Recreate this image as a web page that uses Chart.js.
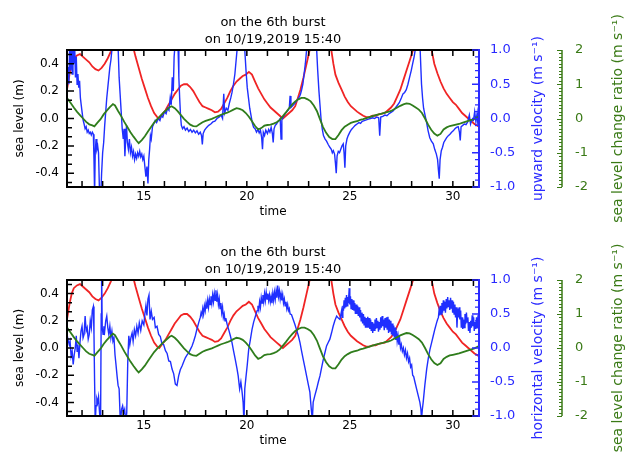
<!DOCTYPE html>
<html>
<head>
<meta charset="utf-8">
<script src="https://cdn.jsdelivr.net/npm/chart.js@4.4.1/dist/chart.umd.min.js"></script>
<style>
  html, body { margin: 0; padding: 0; background: #fff; }
  #wrap { position: relative; width: 629px; height: 457px; overflow: hidden; }
  canvas { position: absolute; left: 0; }
</style>
</head>
<body>
<div id="wrap">
  <canvas id="upper" width="629" height="229" style="top:0px"></canvas>
  <canvas id="lower" width="629" height="229" style="top:228px"></canvas>
</div>
<script>
// titles and tick labels
const burstTitle = ['on the 6th burst', 'on 10/19,2019 15:40'];
const timeTicks = [15, 20, 25, 30];
const seaTicks = [-0.4, -0.2, 0, 0.2, 0.4];
const velTicks = [-1, -0.5, 0, 0.5, 1];
const ratioTicks = [-2, -1, 0, 1, 2];

// sea level (m), red, same in both panels  [time, value]
const seaLevel = [
  [11.27,0.21],[11.4,0.33],[11.5,0.40],[11.6,0.44],[11.75,0.46],[11.9,0.47],[12.05,0.45],[12.2,0.43],
  [12.35,0.41],[12.5,0.38],[12.65,0.36],[12.8,0.35],[12.95,0.37],[13.1,0.40],[13.25,0.44],[13.4,0.49],
  [13.55,0.56],[13.8,0.68],[14.0,0.72],[14.2,0.68],[14.4,0.58],[14.5,0.51],[14.6,0.45],[14.75,0.37],
  [14.9,0.29],[15.05,0.22],[15.2,0.15],[15.35,0.09],[15.5,0.04],[15.65,0.01],[15.75,0.0],[15.9,0.03],
  [16.05,0.06],[16.2,0.10],[16.35,0.14],[16.5,0.18],[16.65,0.21],[16.8,0.24],[16.95,0.25],[17.1,0.25],
  [17.25,0.23],[17.4,0.20],[17.55,0.16],[17.7,0.12],[17.85,0.09],[18.0,0.08],[18.15,0.07],[18.3,0.06],
  [18.45,0.045],[18.6,0.05],[18.75,0.07],[18.9,0.11],[19.05,0.15],[19.2,0.20],[19.35,0.24],[19.5,0.27],
  [19.65,0.29],[19.8,0.31],[19.95,0.32],[20.1,0.34],[20.25,0.32],[20.4,0.27],[20.55,0.22],[20.7,0.18],
  [20.85,0.14],[21.0,0.11],[21.15,0.08],[21.3,0.06],[21.45,0.04],[21.6,0.02],[21.75,0.0],[21.9,0.02],
  [22.05,0.04],[22.2,0.06],[22.35,0.09],[22.5,0.16],[22.6,0.21],[22.75,0.30],[22.9,0.40],[23.05,0.50],
  [23.3,0.66],[23.6,0.76],[23.9,0.66],[24.1,0.50],[24.2,0.40],[24.3,0.32],[24.45,0.26],[24.6,0.21],
  [24.75,0.16],[24.9,0.12],[25.05,0.09],[25.2,0.07],[25.35,0.05],[25.5,0.035],[25.65,0.02],[25.8,0.01],
  [25.95,0.01],[26.1,0.02],[26.25,0.02],[26.4,0.03],[26.55,0.035],[26.7,0.04],[26.85,0.06],[27.0,0.08],
  [27.15,0.11],[27.3,0.16],[27.45,0.21],[27.6,0.28],[27.75,0.35],[27.9,0.42],[28.05,0.49],[28.2,0.58],
  [28.5,0.72],[28.8,0.62],[28.97,0.50],[29.1,0.40],[29.25,0.33],[29.4,0.27],[29.55,0.22],[29.7,0.18],
  [29.85,0.15],[30.0,0.12],[30.15,0.10],[30.3,0.07],[30.45,0.04],[30.6,0.02],[30.75,0.0],[30.9,-0.02],
  [31.05,-0.04],[31.27,-0.06]
];

// sea level change ratio (m s-1), green, same in both panels
const changeRatio = [
  [11.27,0.60],[11.45,0.45],[11.6,0.32],[11.75,0.2],[11.9,0.1],[12.05,0.0],[12.2,-0.1],[12.35,-0.17],
  [12.5,-0.2],[12.6,-0.23],[12.75,-0.12],[12.9,-0.02],[13.05,0.12],[13.2,0.23],[13.35,0.33],[13.5,0.42],
  [13.6,0.38],[13.75,0.22],[13.9,0.07],[14.05,-0.1],[14.2,-0.25],[14.35,-0.4],[14.5,-0.53],[14.65,-0.65],
  [14.75,-0.72],[14.9,-0.63],[15.05,-0.52],[15.2,-0.38],[15.35,-0.25],[15.5,-0.12],[15.65,-0.02],[15.8,0.08],
  [15.95,0.17],[16.1,0.25],[16.25,0.33],[16.35,0.36],[16.5,0.30],[16.65,0.21],[16.8,0.1],[16.95,-0.01],
  [17.1,-0.1],[17.25,-0.18],[17.4,-0.22],[17.55,-0.23],[17.7,-0.17],[17.85,-0.11],[18.0,-0.07],[18.15,-0.04],
  [18.3,-0.01],[18.45,0.03],[18.6,0.07],[18.75,0.11],[18.9,0.14],[19.05,0.17],[19.2,0.21],[19.35,0.26],
  [19.5,0.30],[19.65,0.28],[19.8,0.24],[19.95,0.16],[20.1,0.05],[20.25,-0.08],[20.4,-0.22],[20.55,-0.32],
  [20.7,-0.28],[20.85,-0.21],[21.0,-0.19],[21.15,-0.18],[21.3,-0.15],[21.45,-0.11],[21.6,-0.04],[21.75,0.07],
  [21.9,0.18],[22.05,0.3],[22.2,0.41],[22.35,0.5],[22.5,0.56],[22.65,0.6],[22.8,0.6],[22.95,0.56],
  [23.1,0.5],[23.25,0.38],[23.4,0.22],[23.55,-0.02],[23.7,-0.25],[23.85,-0.42],[24.0,-0.54],[24.15,-0.6],
  [24.3,-0.6],[24.45,-0.48],[24.6,-0.34],[24.75,-0.24],[24.9,-0.18],[25.05,-0.13],[25.2,-0.1],[25.35,-0.08],
  [25.5,-0.04],[25.65,-0.02],[25.8,0.01],[25.95,0.04],[26.1,0.07],[26.25,0.1],[26.4,0.12],[26.55,0.14],
  [26.7,0.17],[26.85,0.19],[27.0,0.22],[27.15,0.27],[27.3,0.32],[27.45,0.37],[27.6,0.41],[27.75,0.44],
  [27.9,0.43],[28.05,0.38],[28.2,0.32],[28.35,0.26],[28.5,0.16],[28.65,0.0],[28.8,-0.18],[28.95,-0.33],
  [29.1,-0.44],[29.25,-0.5],[29.4,-0.45],[29.55,-0.32],[29.7,-0.26],[29.85,-0.22],[30.0,-0.2],[30.15,-0.18],
  [30.3,-0.16],[30.45,-0.13],[30.6,-0.1],[30.75,-0.07],[30.9,-0.04],[31.05,-0.01],[31.27,0.06]
];

// upward velocity (m s-1), blue, upper panel
const upwardVel = [
  [11.27,0.45],[11.32,0.75],[11.36,0.5],[11.4,1.1],[11.44,0.7],[11.48,1.1],[11.52,0.65],[11.56,1.05],
  [11.6,0.8],[11.64,1.1],[11.68,0.6],[11.72,0.9],[11.76,0.5],[11.8,0.65],[11.84,0.45],[11.88,0.55],
  [11.92,0.3],[11.96,0.2],[12.0,0.1],[12.05,-0.02],[12.1,-0.08],[12.15,-0.15],[12.2,-0.12],[12.25,-0.2],
  [12.3,-0.17],[12.35,-0.22],[12.4,-0.2],[12.45,-0.24],[12.5,-0.2],[12.55,-0.23],[12.58,-0.6],[12.61,-1.1],
  [12.64,-0.5],[12.68,-0.3],[12.72,-0.45],[12.76,-0.4],[12.8,-0.5],[12.85,-1.1],[12.9,-1.2],[12.95,-0.8],
  [13.0,-0.5],[13.05,-0.35],[13.1,-0.1],[13.15,0.1],[13.2,0.3],[13.25,0.45],[13.3,0.6],[13.35,0.75],
  [13.4,0.85],[13.45,1.0],[13.55,1.3],[13.65,1.3],[13.75,1.05],[13.8,0.6],[13.85,0.35],[13.9,0.1],
  [13.95,-0.15],[14.0,-0.3],[14.04,-0.15],[14.08,-0.55],[14.12,-0.3],[14.16,-0.1],[14.2,-0.35],[14.25,-0.45],
  [14.3,-0.3],[14.35,-0.5],[14.4,-0.42],[14.45,-0.55],[14.5,-0.48],[14.55,-0.6],[14.6,-0.52],[14.65,-0.58],
  [14.7,-0.5],[14.75,-0.55],[14.8,-0.48],[14.85,-0.56],[14.9,-0.52],[14.95,-0.6],[15.0,-0.55],[15.05,-0.7],
  [15.1,-0.85],[15.15,-0.7],[15.2,-0.95],[15.24,-0.6],[15.28,-0.45],[15.32,-0.25],[15.36,-0.3],[15.42,-0.12],
  [15.48,-0.08],[15.55,-0.03],[15.62,-0.06],[15.7,0.0],[15.78,-0.03],[15.85,0.04],[15.92,0.02],[16.0,0.1],
  [16.08,0.07],[16.15,0.15],[16.22,0.12],[16.28,0.3],[16.33,0.2],[16.38,0.6],[16.43,0.4],[16.47,0.9],
  [16.52,1.1],[16.6,1.2],[16.66,1.05],[16.7,0.6],[16.74,0.3],[16.78,0.05],[16.82,-0.1],[16.88,-0.15],
  [16.95,-0.12],[17.02,-0.17],[17.1,-0.14],[17.18,-0.19],[17.26,-0.16],[17.34,-0.2],[17.42,-0.17],[17.5,-0.21],
  [17.58,-0.18],[17.66,-0.23],[17.74,-0.2],[17.8,-0.25],[17.84,-0.38],[17.88,-0.22],[17.95,-0.17],[18.05,-0.13],
  [18.15,-0.1],[18.25,-0.08],[18.35,-0.05],[18.45,-0.04],[18.55,0.0],[18.65,0.02],[18.75,0.05],[18.82,0.0],
  [18.88,0.36],[18.92,0.08],[19.0,0.15],[19.08,0.12],[19.15,0.22],[19.22,0.3],[19.28,0.38],[19.35,0.5],
  [19.42,0.65],[19.48,0.85],[19.54,1.05],[19.65,1.3],[19.78,1.2],[19.9,1.0],[19.96,0.7],[20.02,0.45],
  [20.08,0.3],[20.14,0.15],[20.2,0.05],[20.27,-0.07],[20.33,-0.13],[20.4,-0.15],[20.47,-0.2],[20.54,-0.16],
  [20.6,-0.21],[20.66,-0.17],[20.72,-0.28],[20.76,-0.45],[20.8,-0.2],[20.86,-0.25],[20.92,-0.17],[21.0,-0.22],
  [21.06,-0.16],[21.12,-0.2],[21.18,-0.13],[21.24,-0.22],[21.28,-0.35],[21.32,-0.15],[21.38,-0.1],[21.44,-0.08],
  [21.5,-0.05],[21.56,-0.03],[21.62,0.0],[21.66,-0.3],[21.7,-0.02],[21.76,0.02],[21.82,0.05],[21.88,0.08],
  [21.94,0.1],[22.0,0.12],[22.06,0.15],[22.1,0.33],[22.14,0.16],[22.2,0.18],[22.27,0.2],[22.33,0.22],
  [22.4,0.25],[22.47,0.28],[22.54,0.31],[22.6,0.35],[22.66,0.42],[22.72,0.5],[22.78,0.65],[22.84,0.8],
  [22.9,1.0],[23.0,1.3],[23.15,1.4],[23.3,1.2],[23.39,1.0],[23.44,0.7],[23.5,0.4],[23.55,0.2],
  [23.6,0.0],[23.66,-0.15],[23.72,-0.25],[23.8,-0.3],[23.87,-0.33],[23.95,-0.38],[24.03,-0.42],[24.1,-0.45],
  [24.15,-0.5],[24.2,-0.47],[24.26,-0.52],[24.3,-0.65],[24.34,-0.8],[24.38,-0.55],[24.44,-0.48],[24.5,-0.5],
  [24.56,-0.45],[24.62,-0.4],[24.68,-0.37],[24.72,-0.5],[24.76,-0.72],[24.8,-0.4],[24.86,-0.3],[24.92,-0.25],
  [25.0,-0.2],[25.08,-0.16],[25.17,-0.13],[25.26,-0.1],[25.35,-0.08],[25.44,-0.06],[25.52,-0.07],[25.6,-0.04],
  [25.7,-0.03],[25.8,-0.02],[25.9,-0.01],[26.0,0.0],[26.1,0.01],[26.2,0.0],[26.3,0.02],[26.4,0.01],
  [26.45,-0.25],[26.5,0.02],[26.6,0.03],[26.7,0.05],[26.8,0.04],[26.9,0.07],[27.0,0.09],[27.1,0.11],
  [27.2,0.15],[27.3,0.19],[27.4,0.23],[27.5,0.3],[27.58,0.36],[27.66,0.38],[27.74,0.42],[27.82,0.5],
  [27.9,0.6],[27.98,0.7],[28.05,0.8],[28.12,0.9],[28.2,1.05],[28.3,1.3],[28.4,1.1],[28.44,0.8],
  [28.48,0.5],[28.53,0.3],[28.58,0.15],[28.65,0.05],[28.72,-0.05],[28.8,-0.18],[28.88,-0.28],[28.96,-0.33],
  [29.05,-0.37],[29.12,-0.45],[29.2,-0.52],[29.26,-0.6],[29.3,-0.75],[29.34,-0.88],[29.38,-0.6],[29.44,-0.47],
  [29.5,-0.42],[29.56,-0.35],[29.62,-0.32],[29.7,-0.28],[29.78,-0.25],[29.86,-0.23],[29.94,-0.2],[30.02,-0.18],
  [30.1,-0.15],[30.18,-0.13],[30.26,-0.12],[30.32,-0.2],[30.36,-0.32],[30.4,-0.12],[30.48,-0.1],[30.56,-0.08],
  [30.64,-0.09],[30.72,-0.05],[30.8,0.05],[30.86,-0.08],[30.92,-0.02],[31.0,-0.03],[31.06,0.1],[31.12,-0.05],
  [31.18,0.08],[31.22,-0.1],[31.27,0.05]
];

// horizontal velocity (m s-1), blue, lower panel
const horizVel = [
  [11.27,0.2],[11.32,0.12],[11.38,0.05],[11.42,0.1],[11.47,-0.12],[11.52,-0.05],[11.57,-0.24],[11.62,-0.1],
  [11.67,0.0],[11.72,0.18],[11.76,-0.05],[11.8,0.05],[11.85,-0.15],[11.9,0.08],[11.95,0.25],[12.0,0.32],
  [12.05,0.15],[12.1,0.2],[12.15,0.47],[12.2,0.25],[12.25,0.3],[12.3,0.13],[12.35,0.2],[12.4,0.4],
  [12.45,0.3],[12.5,0.56],[12.55,0.61],[12.58,0.2],[12.61,-0.5],[12.64,-1.1],[12.68,-0.85],[12.72,-0.75],
  [12.76,-0.8],[12.8,-0.72],[12.85,-0.95],[12.9,-1.1],[12.93,0.5],[12.95,1.2],[12.98,0.3],[13.02,0.2],
  [13.06,0.32],[13.1,0.25],[13.15,0.4],[13.2,0.47],[13.25,0.3],[13.3,0.2],[13.35,0.32],[13.4,0.15],
  [13.45,0.25],[13.5,0.1],[13.55,0.15],[13.6,-0.1],[13.65,-0.25],[13.7,-0.41],[13.75,-0.55],[13.8,-0.6],
  [13.86,-1.1],[13.92,-0.9],[13.97,-0.85],[14.02,-0.95],[14.07,-0.9],[14.12,-1.1],[14.17,-0.95],[14.22,-0.2],
  [14.27,0.18],[14.32,0.05],[14.37,0.15],[14.43,0.22],[14.48,0.1],[14.54,0.27],[14.6,0.18],[14.66,0.32],
  [14.72,0.22],[14.78,0.37],[14.85,0.26],[14.92,0.4],[15.0,0.34],[15.05,0.5],[15.1,0.62],[15.15,0.48],
  [15.2,0.72],[15.25,0.78],[15.3,0.42],[15.36,0.54],[15.42,0.42],[15.5,0.45],[15.56,0.3],[15.64,0.32],
  [15.72,0.2],[15.8,0.17],[15.88,0.06],[15.96,0.05],[16.05,-0.04],[16.13,-0.08],[16.21,-0.19],[16.29,-0.2],
  [16.37,-0.31],[16.45,-0.38],[16.53,-0.53],[16.61,-0.55],[16.69,-0.41],[16.77,-0.32],[16.86,-0.26],[16.94,-0.2],
  [17.02,-0.14],[17.1,-0.1],[17.18,-0.07],[17.26,-0.02],[17.34,0.03],[17.42,0.1],[17.5,0.18],[17.58,0.28],
  [17.66,0.37],[17.74,0.45],[17.78,0.52],[17.82,0.48],[17.86,0.58],[17.9,0.5],[17.94,0.62],[17.98,0.55],
  [18.02,0.66],[18.06,0.58],[18.1,0.7],[18.14,0.6],[18.18,0.72],[18.22,0.64],[18.26,0.76],[18.3,0.66],
  [18.34,0.78],[18.38,0.68],[18.42,0.8],[18.46,0.7],[18.5,0.85],[18.54,0.68],[18.58,0.78],[18.62,0.64],
  [18.66,0.72],[18.7,0.58],[18.74,0.66],[18.78,0.52],[18.82,0.6],[18.86,0.45],[18.9,0.5],[18.94,0.4],
  [18.98,0.44],[19.04,0.35],[19.12,0.27],[19.2,0.18],[19.28,0.08],[19.36,-0.05],[19.44,-0.17],
  [19.52,-0.3],[19.58,-0.41],[19.65,-0.6],[19.71,-0.5],[19.77,-0.65],[19.82,-0.8],[19.86,-1.1],[19.9,-0.6],
  [19.95,-0.45],[20.02,-0.25],[20.09,-0.02],[20.17,0.12],[20.25,0.27],[20.33,0.38],[20.42,0.47],[20.5,0.55],
  [20.54,0.62],[20.58,0.56],[20.62,0.68],[20.66,0.6],[20.7,0.74],[20.74,0.66],[20.78,0.78],[20.82,0.68],
  [20.86,0.8],[20.9,0.7],[20.94,0.82],[20.98,0.72],[21.02,0.8],[21.06,0.7],[21.1,0.78],[21.14,0.68],
  [21.18,0.76],[21.22,0.66],[21.26,0.8],[21.3,0.7],[21.34,0.82],[21.38,0.72],[21.42,0.84],[21.46,0.74],
  [21.5,0.92],[21.54,0.76],[21.58,0.84],[21.62,0.72],[21.66,0.8],[21.7,0.7],[21.74,0.78],[21.78,0.66],
  [21.82,0.72],[21.86,0.62],[21.9,0.68],[21.94,0.58],[21.98,0.64],[22.02,0.55],[22.06,0.58],[22.1,0.5],
  [22.17,0.49],[22.25,0.42],[22.33,0.35],[22.41,0.27],
  [22.5,0.18],[22.58,0.08],[22.66,-0.05],[22.74,-0.17],[22.82,-0.29],[22.9,-0.41],[22.98,-0.53],[23.06,-0.65],
  [23.1,-0.8],[23.14,-0.94],[23.18,-1.05],[23.22,-0.8],[23.3,-0.7],[23.39,-0.6],[23.47,-0.5],[23.55,-0.41],
  [23.63,-0.29],[23.71,-0.17],[23.79,-0.07],[23.87,0.03],[23.95,0.08],[24.03,0.13],[24.11,0.22],[24.19,0.32],
  [24.27,0.4],[24.36,0.47],[24.44,0.44],[24.52,0.42],[24.6,0.55],[24.63,0.45],[24.66,0.62],[24.69,0.55],
  [24.72,0.7],[24.75,0.58],[24.78,0.74],[24.81,0.6],[24.84,0.78],[24.87,0.62],[24.9,0.75],[24.93,0.66],
  [24.97,0.88],[25.0,0.64],[25.03,0.76],[25.06,0.58],[25.1,0.72],[25.13,0.56],[25.17,0.7],[25.2,0.55],
  [25.24,0.66],[25.27,0.5],[25.31,0.64],[25.34,0.5],[25.38,0.62],[25.41,0.47],[25.45,0.6],[25.48,0.45],
  [25.52,0.56],[25.55,0.4],[25.59,0.52],[25.62,0.36],[25.66,0.5],[25.69,0.34],[25.73,0.46],[25.76,0.3],
  [25.8,0.44],[25.83,0.3],[25.87,0.46],[25.9,0.3],[25.94,0.44],[25.97,0.28],[26.01,0.42],[26.04,0.25],
  [26.08,0.38],[26.11,0.22],[26.15,0.36],[26.18,0.26],[26.22,0.42],[26.25,0.28],[26.29,0.44],[26.32,0.3],
  [26.36,0.4],[26.39,0.24],[26.43,0.38],[26.46,0.27],[26.5,0.45],[26.53,0.3],[26.57,0.47],[26.6,0.32],
  [26.64,0.42],[26.67,0.26],[26.71,0.44],[26.74,0.3],[26.78,0.45],[26.81,0.28],[26.85,0.46],[26.88,0.22],
  [26.92,0.42],[26.95,0.25],[26.99,0.4],[27.02,0.2],[27.06,0.36],[27.09,0.18],[27.13,0.33],[27.16,0.15],
  [27.2,0.3],[27.23,0.12],[27.27,0.25],[27.3,0.1],[27.34,0.18],[27.38,0.05],[27.42,0.12],[27.46,0.0],
  [27.5,0.05],[27.55,-0.05],[27.6,0.0],[27.65,-0.1],[27.7,-0.03],[27.75,-0.15],[27.8,-0.08],[27.85,-0.2],
  [27.9,-0.15],[27.95,-0.28],[28.0,-0.25],[28.05,-0.4],[28.1,-0.42],[28.16,-0.5],[28.24,-0.6],[28.32,-0.7],
  [28.4,-0.8],[28.45,-0.9],[28.48,-1.05],[28.52,-0.9],[28.56,-0.8],[28.64,-0.55],[28.73,-0.31],[28.81,-0.15],
  [28.89,-0.02],[28.97,0.08],[29.05,0.18],[29.13,0.28],[29.21,0.37],[29.26,0.42],[29.3,0.45],[29.33,0.55],
  [29.36,0.48],[29.4,0.62],[29.43,0.5],[29.47,0.66],[29.5,0.52],[29.54,0.7],[29.57,0.55],[29.61,0.68],
  [29.64,0.52],[29.68,0.72],[29.71,0.58],[29.75,0.75],[29.78,0.6],[29.82,0.7],[29.85,0.56],[29.89,0.74],
  [29.92,0.58],[29.96,0.7],[29.99,0.52],[30.03,0.68],[30.06,0.5],[30.1,0.64],[30.13,0.45],[30.17,0.6],
  [30.2,0.3],[30.24,0.58],[30.27,0.45],[30.31,0.6],[30.34,0.42],[30.38,0.55],[30.41,0.3],[30.45,0.45],
  [30.48,0.28],[30.52,0.42],[30.55,0.3],[30.59,0.5],[30.62,0.35],[30.66,0.52],[30.69,0.38],[30.73,0.45],
  [30.76,0.25],[30.8,0.38],[30.83,0.22],[30.87,0.4],[30.9,0.3],[30.94,0.48],[30.97,0.32],[31.01,0.45],
  [31.04,0.25],[31.08,0.38],[31.11,0.28],[31.15,0.45],[31.18,0.3],[31.22,0.48],[31.27,0.38]
];

const FONT = '"DejaVu Sans", sans-serif';
const BLUE = '#2a2aff';
const GREEN = '#3a7a16';
const toXY = arr => arr.map(p => ({x: p[0], y: p[1]}));
const fixTicks = list => (scale => { scale.ticks = list.map(v => ({value: v})); });

function framePlugin(velTitle) {
  return {
    id: 'frame',
    afterDatasetsDraw(chart) {
      const {ctx, chartArea: a, scales} = chart;
      const sx = scales.x, sy = scales.sea, sv = scales.vel, sr = scales.ratio;
      const cx = (a.left + a.right) / 2, cy = (a.top + a.bottom) / 2;
      ctx.save();

      // black frame (left, top, bottom)
      ctx.strokeStyle = '#000';
      ctx.lineWidth = 2;
      ctx.beginPath();
      ctx.moveTo(a.right, a.top); ctx.lineTo(a.left, a.top);
      ctx.lineTo(a.left, a.bottom); ctx.lineTo(a.right, a.bottom);
      ctx.stroke();

      // time ticks, top and bottom, pointing in
      ctx.lineWidth = 1.5;
      ctx.beginPath();
      for (let t = 12; t <= 31; t++) {
        const px = sx.getPixelForValue(t);
        ctx.moveTo(px, a.bottom); ctx.lineTo(px, a.bottom - 6);
        ctx.moveTo(px, a.top); ctx.lineTo(px, a.top + 6);
      }
      // sea level ticks, 3 per 0.2
      for (let k = -7; k <= 7; k++) {
        const py = sy.getPixelForValue(k * 0.2 / 3);
        ctx.moveTo(a.left, py); ctx.lineTo(a.left + (k % 3 === 0 ? 7 : 5), py);
      }
      ctx.stroke();

      // velocity axis (blue) at right edge
      ctx.strokeStyle = BLUE;
      ctx.lineWidth = 2;
      ctx.beginPath();
      ctx.moveTo(a.right, a.top - 1); ctx.lineTo(a.right, a.bottom + 1);
      ctx.stroke();
      ctx.lineWidth = 1.3;
      ctx.beginPath();
      for (let k = -10; k <= 10; k++) {
        const py = sv.getPixelForValue(k / 10);
        ctx.moveTo(a.right, py); ctx.lineTo(a.right - (k % 5 === 0 ? 7 : 4), py);
      }
      ctx.stroke();

      // change ratio axis (green)
      const gx = sr.left + 1;
      ctx.strokeStyle = GREEN;
      ctx.lineWidth = 1.5;
      ctx.beginPath();
      ctx.moveTo(gx, a.top); ctx.lineTo(gx, a.bottom);
      ctx.stroke();
      ctx.lineWidth = 1;
      ctx.beginPath();
      for (let k = -20; k <= 20; k++) {
        const py = Math.round(sr.getPixelForValue(k / 10)) + 0.5;
        ctx.moveTo(gx, py); ctx.lineTo(gx - (k % 10 === 0 ? 5 : 3), py);
      }
      ctx.stroke();

      // titles
      ctx.fillStyle = '#000';
      ctx.textAlign = 'center';
      ctx.textBaseline = 'middle';
      ctx.font = '13px ' + FONT;
      ctx.fillText(burstTitle[0], cx, a.top - 27);
      ctx.fillText(burstTitle[1], cx, a.top - 10);
      ctx.font = '12px ' + FONT;
      ctx.fillText('time', cx, a.bottom + 25);

      const vtext = (txt, x, color, size) => {
        ctx.save();
        ctx.translate(x, cy);
        ctx.rotate(-Math.PI / 2);
        ctx.fillStyle = color;
        ctx.font = size + 'px ' + FONT;
        ctx.fillText(txt, 0, 0);
        ctx.restore();
      };
      vtext('sea level (m)', 20, '#000', 12);
      vtext(velTitle, a.right + 59, BLUE, 14);
      vtext('sea level change ratio (m s\u207B\u00B9)', sr.left + 57, GREEN, 14);
      ctx.restore();
    }
  };
}

function makePanel(id, velData, velTitle, padTop, xHeight) {
  new Chart(document.getElementById(id), {
    type: 'line',
    data: {
      datasets: [
        { data: toXY(changeRatio), yAxisID: 'ratio', borderColor: '#2f7d1c', borderWidth: 1.8 },
        { data: toXY(velData), yAxisID: 'vel', borderColor: '#1f2fff', borderWidth: 1.4 },
        { data: toXY(seaLevel), yAxisID: 'sea', borderColor: '#f02424', borderWidth: 1.8 }
      ]
    },
    options: {
      responsive: false,
      animation: false,
      devicePixelRatio: 1,
      events: [],
      elements: { point: { radius: 0 }, line: { tension: 0 } },
      layout: { padding: { top: padTop, left: 0, right: 0, bottom: 0 } },
      plugins: { legend: { display: false }, tooltip: { enabled: false } },
      scales: {
        x: {
          type: 'linear', min: 11.27, max: 31.27, bounds: 'data',
          afterBuildTicks: fixTicks(timeTicks),
          afterFit: s => { s.height = xHeight; },
          grid: { display: false, drawTicks: false }, border: { display: false },
          ticks: { autoSkip: false, maxRotation: 0, padding: 3, color: '#000',
                   font: { family: FONT, size: 12 }, callback: v => String(v) }
        },
        sea: {
          type: 'linear', axis: 'y', position: 'left', min: -0.5, max: 0.5, bounds: 'data',
          afterBuildTicks: fixTicks(seaTicks),
          afterFit: s => { s.width = 67; },
          grid: { display: false, drawTicks: false }, border: { display: false },
          ticks: { autoSkip: false, padding: 8, color: '#000',
                   font: { family: FONT, size: 12 }, callback: v => v.toFixed(1) }
        },
        vel: {
          type: 'linear', axis: 'y', position: 'right', min: -1, max: 1, bounds: 'data',
          afterBuildTicks: fixTicks(velTicks),
          afterFit: s => { s.width = 82; },
          grid: { display: false, drawTicks: false }, border: { display: false },
          ticks: { autoSkip: false, padding: 11, color: BLUE,
                   font: { family: FONT, size: 13 }, callback: v => v.toFixed(1) }
        },
        ratio: {
          type: 'linear', axis: 'y', position: 'right', min: -2, max: 2, bounds: 'data',
          afterBuildTicks: fixTicks(ratioTicks),
          afterFit: s => { s.width = 68; },
          grid: { display: false, drawTicks: false }, border: { display: false },
          ticks: { autoSkip: false, padding: 14, color: GREEN,
                   font: { family: FONT, size: 13 }, callback: v => String(v) }
        }
      }
    },
    plugins: [framePlugin(velTitle)]
  });
}

makePanel('upper', upwardVel, 'upward velocity (m s\u207B\u00B9)', 50, 42);
makePanel('lower', horizVel, 'horizontal velocity (m s\u207B\u00B9)', 52, 41);
</script>
</body>
</html>
